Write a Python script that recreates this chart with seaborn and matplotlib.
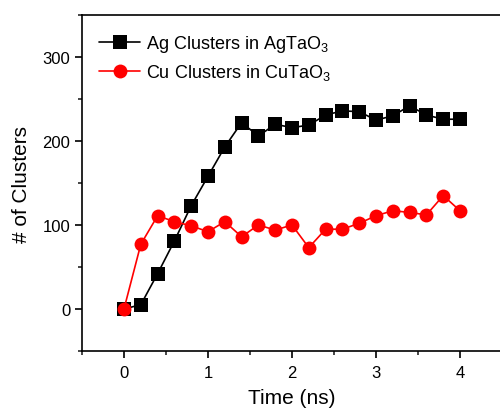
import matplotlib
matplotlib.use("Agg")
import matplotlib.pyplot as plt
import seaborn as sns
import pandas as pd
from matplotlib.ticker import MultipleLocator

time_ns = [0.0, 0.2, 0.4, 0.6, 0.8, 1.0, 1.2, 1.4, 1.6, 1.8, 2.0,
           2.2, 2.4, 2.6, 2.8, 3.0, 3.2, 3.4, 3.6, 3.8, 4.0]
ag_clusters = [0, 5, 42, 81, 123, 158, 193, 222, 206, 220, 216,
               219, 231, 236, 235, 225, 230, 242, 231, 226, 226]
cu_clusters = [0, 77, 111, 104, 99, 92, 104, 86, 100, 94, 100,
               73, 95, 95, 102, 111, 117, 115, 112, 135, 117]
series_names = ["Ag Clusters in AgTaO$_3$", "Cu Clusters in CuTaO$_3$"]

sns.set_style("ticks")
plt.rcParams['font.family'] = ['Liberation Sans', 'DejaVu Sans']
plt.rcParams['mathtext.fontset'] = 'custom'
plt.rcParams['mathtext.rm'] = 'Liberation Sans'
plt.rcParams['mathtext.it'] = 'Liberation Sans'
plt.rcParams['text.color'] = 'black'
plt.rcParams['axes.labelcolor'] = 'black'

df = pd.DataFrame({
    "time": time_ns * 2,
    "count": ag_clusters + cu_clusters,
    "series": [series_names[0]] * len(time_ns) + [series_names[1]] * len(time_ns),
})

fig = plt.figure(figsize=(5.0, 4.14), dpi=100)
ax = fig.add_axes([0.164, 0.150, 0.84, 0.811])

sns.lineplot(data=df, x="time", y="count", hue="series", style="series",
             palette={series_names[0]: "black", series_names[1]: "#ff0000"},
             markers={series_names[0]: "s", series_names[1]: "o"},
             dashes=False, markersize=10, markeredgewidth=0, linewidth=1.2,
             ax=ax, legend=True)

ax.set_xlim(-0.5, 4.5)
ax.set_ylim(-50, 350)
ax.xaxis.set_major_locator(MultipleLocator(1))
ax.xaxis.set_minor_locator(MultipleLocator(0.5))
ax.yaxis.set_major_locator(MultipleLocator(100))
ax.yaxis.set_minor_locator(MultipleLocator(50))
ax.tick_params(axis='both', which='major', direction='out', length=5, width=1.2,
               labelsize=12, colors='black')
ax.tick_params(axis='both', which='minor', direction='out', length=3, width=1.2)
ax.tick_params(axis='x', pad=5)

for s in ax.spines.values():
    s.set_linewidth(1.2)
    s.set_color('black')

ax.set_xlabel("Time (ns)", fontsize=15, labelpad=6, color='black')
ax.set_ylabel("# of Clusters", fontsize=15, labelpad=8, color='black')

leg = ax.legend(loc='upper left', frameon=False, fontsize=13, handlelength=2.3,
                handletextpad=0.3, borderaxespad=0.3, labelspacing=0.45,
                bbox_to_anchor=(0.01, 0.985))
for t in leg.get_texts():
    t.set_color('black')

fig.savefig("out.png", dpi=100)
